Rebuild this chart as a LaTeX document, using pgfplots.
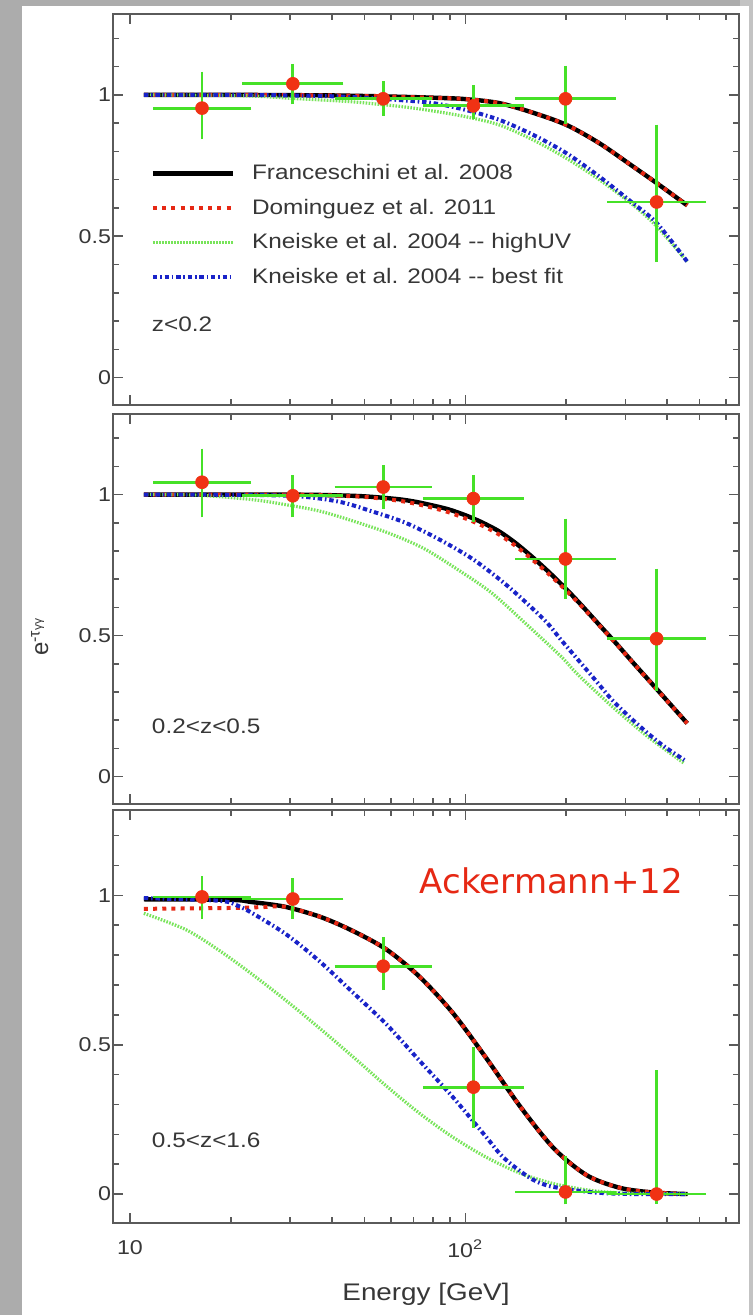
\documentclass[border=0pt]{standalone}
\usepackage{fontspec}
\setmainfont{Liberation Sans}
\newfontfamily\ackfont{DejaVu Sans}
\usepackage{pgfplots}
\pgfplotsset{compat=1.18}

\definecolor{bggray}{RGB}{172,172,172}
\definecolor{bgright}{RGB}{195,195,195}
\definecolor{framegray}{RGB}{90,90,90}
\definecolor{txtgray}{RGB}{55,55,55}
\definecolor{ptred}{RGB}{240,50,20}
\definecolor{errgreen}{RGB}{70,225,40}
\definecolor{cred}{RGB}{230,40,20}
\definecolor{cgreen}{RGB}{120,228,90}
\definecolor{cblue}{RGB}{25,35,200}

% the original lettering is a little wider than Arial
\newcommand\hs[1]{\scalebox{1.16}[1]{#1}}

\pgfplotsset{
  panel/.style={
    scale only axis, width=313pt, anchor=north west,
    xmin=8.9, xmax=655, ymin=-0.097, ymax=1.286,
    axis line style={draw=framegray, line width=1pt},
    tick style={draw=framegray, line width=0.8pt},
    tick align=inside, major tick length=5pt, minor tick length=3pt,
    xtick={10,100}, minor xtick={20,30,40,50,60,70,80,90,200,300,400,500,600},
    xticklabels={,,},
    ytick={0,0.5,1}, yticklabels={\hs{0},\hs{0.5},\hs{1}},
    minor ytick={0.1,0.2,0.3,0.4,0.6,0.7,0.8,0.9,1.1,1.2},
    ticklabel style={font=\fontsize{10}{12}\selectfont, text=txtgray},
    yticklabel style={xshift=2.5pt},
    xticklabel style={yshift=-5pt},
  },
  fran/.style={black, line width=2.2pt, smooth},
  domi/.style={cred, line width=2pt, dash pattern=on 2pt off 2.6pt, smooth},
  kuv/.style={cgreen, line width=1.6pt, dash pattern=on 0.8pt off 0.7pt, smooth},
  kbf/.style={cblue, line width=2pt, dash pattern=on 2.2pt off 1.4pt on 0.8pt off 1.4pt, smooth},
}
\pgfplotsset{
  data/.style={only marks, mark=*, mark size=3.2pt, color=ptred, forget plot,
    error bars/x dir=both, error bars/x explicit, error bars/y dir=both, error bars/y explicit,
    error bars/error bar style={line width=1.4pt, color=errgreen},
    error bars/error mark options={line width=1.4pt, color=errgreen, mark size=2.2pt}},
}
\tikzset{zlab/.style={font=\fontsize{10.5}{12}\selectfont, text=txtgray, anchor=west, inner sep=0pt}}

\begin{document}
\begin{tikzpicture}[x=1pt,y=1pt]
\fill[bggray] (0,0) rectangle (376.5,-657.5);
\fill[bgright] (370,0) rectangle (376.5,-657.5);
\fill[white] (11,-3) rectangle (374.5,-657.5);

% panel 1: z<0.2
\begin{semilogxaxis}[panel, at={(56.5pt,-7pt)}, height=195.5pt,
  legend image code/.code={\draw[#1] (0pt,0pt) -- (40pt,0pt);},
  legend style={at={(axis description cs:0.05,0.637)}, anchor=north west,
    draw=none, fill=none, font=\fontsize{10.5}{12}\selectfont, text=txtgray,
    row sep=4.2pt, /tikz/every odd column/.append style={column sep=6.5pt}},
  legend cell align=left]
\addplot[fran] coordinates {(11,1.0) (20,1.0) (30,0.999) (40,0.998) (50,0.996) (60,0.994) (80,0.99) (100,0.985) (126,0.971) (159,0.937) (200,0.894) (251,0.829) (316,0.747) (372,0.688) (459,0.609)};
\addlegendentry{\hs{Franceschini et al. 2008}}
\addplot[domi] coordinates {(11,1.0) (20,1.0) (30,0.999) (40,0.998) (50,0.996) (60,0.994) (80,0.99) (100,0.985) (126,0.971) (159,0.937) (200,0.894) (251,0.829) (316,0.747) (372,0.688) (459,0.609)};
\addlegendentry{\hs{Dominguez et al. 2011}}
\addplot[kuv] coordinates {(11,1.0) (20,0.998) (25,0.994) (30,0.988) (45,0.976) (64,0.959) (80,0.943) (100,0.923) (126,0.894) (159,0.841) (200,0.776) (251,0.70) (316,0.611) (372,0.535) (459,0.41)};
\addlegendentry{\hs{Kneiske et al. 2004 -{}- highUV}}
\addplot[kbf] coordinates {(11,1.0) (20,1.0) (30,0.998) (40,0.995) (50,0.99) (63,0.982) (80,0.971) (100,0.947) (126,0.912) (159,0.859) (200,0.794) (251,0.711) (316,0.617) (372,0.547) (459,0.41)};
\addlegendentry{\hs{Kneiske et al. 2004 -{}- best fit}}
\addplot[data] table[x=e, y=v, x error minus=xm, x error plus=xp, y error minus=ym, y error plus=yp] {
e v xm xp ym yp
16.4 0.953 4.3 5.9 0.094 0.114
30.6 1.039 8.3 11.4 0.057 0.055
56.9 0.986 14.9 20.1 0.045 0.047
105.7 0.961 28.7 39.3 0.032 0.057
199 0.986 54 74 0.074 0.102
372 0.621 99 135 0.197 0.258
};
\node[zlab] at (axis cs:11.6,0.187) {\hs{z<0.2}};
\end{semilogxaxis}

% panel 2: 0.2<z<0.5
\begin{semilogxaxis}[panel, at={(56.5pt,-207pt)}, height=195pt,
  ylabel={\fontsize{12}{13}\selectfont e\textsuperscript{-τ\textsubscript{γγ}}},
  ylabel style={at={(axis description cs:-0.117,0.43)}, anchor=center, text=txtgray}]
\addplot[fran] coordinates {(11,1.0) (30,1.0) (40,0.998) (50,0.994) (63,0.984) (70.8,0.975) (79,0.963) (89,0.948) (100,0.927) (112,0.902) (126,0.87) (141,0.829) (158,0.78) (178,0.724) (200,0.665) (224,0.603) (251,0.538) (282,0.472) (316,0.405) (355,0.338) (398,0.272) (459,0.189)};
\addplot[domi] coordinates {(11,1.0) (30,1.0) (40,0.997) (50,0.992) (63,0.979) (70.8,0.968) (79,0.955) (89,0.938) (100,0.916) (112,0.891) (126,0.859) (141,0.819) (158,0.771) (178,0.717) (200,0.66) (224,0.6) (251,0.536) (282,0.471) (316,0.404) (355,0.337) (398,0.271) (459,0.189)};
\addplot[kuv] coordinates {(11,1.0) (16,0.998) (23.3,0.982) (29.3,0.964) (37,0.941) (46.7,0.905) (59,0.864) (75,0.81) (95,0.734) (120,0.651) (151,0.544) (193,0.426) (217,0.361) (274,0.249) (350,0.142) (450,0.047)};
\addplot[kbf] coordinates {(11,1.0) (16,1.0) (30,0.996) (41.6,0.976) (52.6,0.941) (66.4,0.9) (84,0.84) (106,0.769) (134,0.675) (172,0.556) (193,0.485) (217,0.414) (244,0.343) (274,0.272) (308,0.213) (350,0.154) (392,0.107) (450,0.059)};
\addplot[data] table[x=e, y=v, x error minus=xm, x error plus=xp, y error minus=ym, y error plus=yp] {
e v xm xp ym yp
16.4 1.044 4.3 5.9 0.109 0.104
30.6 0.996 8.3 11.4 0.061 0.057
56.9 1.027 14.9 20.1 0.063 0.062
105.7 0.986 28.7 39.3 0.069 0.067
199 0.772 54 74 0.125 0.127
372 0.489 99 135 0.17 0.233
};
\node[zlab] at (axis cs:11.6,0.18) {\hs{0.2<z<0.5}};
\end{semilogxaxis}

% panel 3: 0.5<z<1.6
\begin{semilogxaxis}[panel, at={(56.5pt,-405pt)}, height=206.5pt,
  xticklabels={\hs{10},\hs{10\textsuperscript{2}}},
  xlabel={\hs{Energy [GeV]}},
  xlabel style={font=\fontsize{12}{14}\selectfont, text=txtgray, yshift=-6pt}]
\addplot[fran] coordinates {(11,0.987) (20,0.985) (23,0.978) (29,0.962) (37,0.928) (46,0.882) (58,0.82) (73,0.728) (92,0.605) (116,0.452) (146,0.292) (184,0.152) (231,0.062) (291,0.02) (366,0.005) (460,0.0)};
\addplot[domi] coordinates {(11,0.955) (20,0.958) (25,0.961) (29,0.962) (37,0.928) (46,0.882) (58,0.82) (73,0.728) (92,0.605) (116,0.452) (146,0.292) (184,0.152) (231,0.062) (291,0.02) (366,0.005) (460,0.0)};
\addplot[kuv] coordinates {(11,0.94) (14.7,0.885) (18.5,0.815) (23.2,0.735) (29.2,0.648) (36.7,0.556) (46.2,0.46) (58.1,0.362) (73.1,0.27) (91.9,0.19) (115.6,0.123) (145.5,0.07) (183,0.035) (230,0.014) (290,0.004) (460,0.0)};
\addplot[kbf] coordinates {(11,0.991) (18.5,0.982) (21,0.965) (23.2,0.94) (29.2,0.87) (36.7,0.78) (46.2,0.675) (58.1,0.569) (73.1,0.446) (91.9,0.324) (115.6,0.19) (126.7,0.135) (137,0.1) (158,0.05) (181,0.025) (239,0.006) (313,0.0) (460,0.0)};
\addplot[data] table[x=e, y=v, x error minus=xm, x error plus=xp, y error minus=ym, y error plus=yp] {
e v xm xp ym yp
16.4 0.995 4.3 5.9 0.06 0.055
30.6 0.988 8.3 11.4 0.053 0.054
56.9 0.763 14.9 20.1 0.065 0.082
105.7 0.358 28.7 39.3 0.122 0.121
199 0.007 54 74 0.027 0.107
372 0.0 99 135 0.017 0.40
};
\node[zlab] at (axis cs:11.6,0.18) {\hs{0.5<z<1.6}};
\node[anchor=west, inner sep=0pt, text=cred, font=\ackfont\fontsize{17}{19}\selectfont] at (axis cs:73,1.05) {Ackermann+12};
\end{semilogxaxis}

\pgfresetboundingbox
\path[use as bounding box] (0,0) rectangle (376.5,-657.5);
\end{tikzpicture}
\end{document}
